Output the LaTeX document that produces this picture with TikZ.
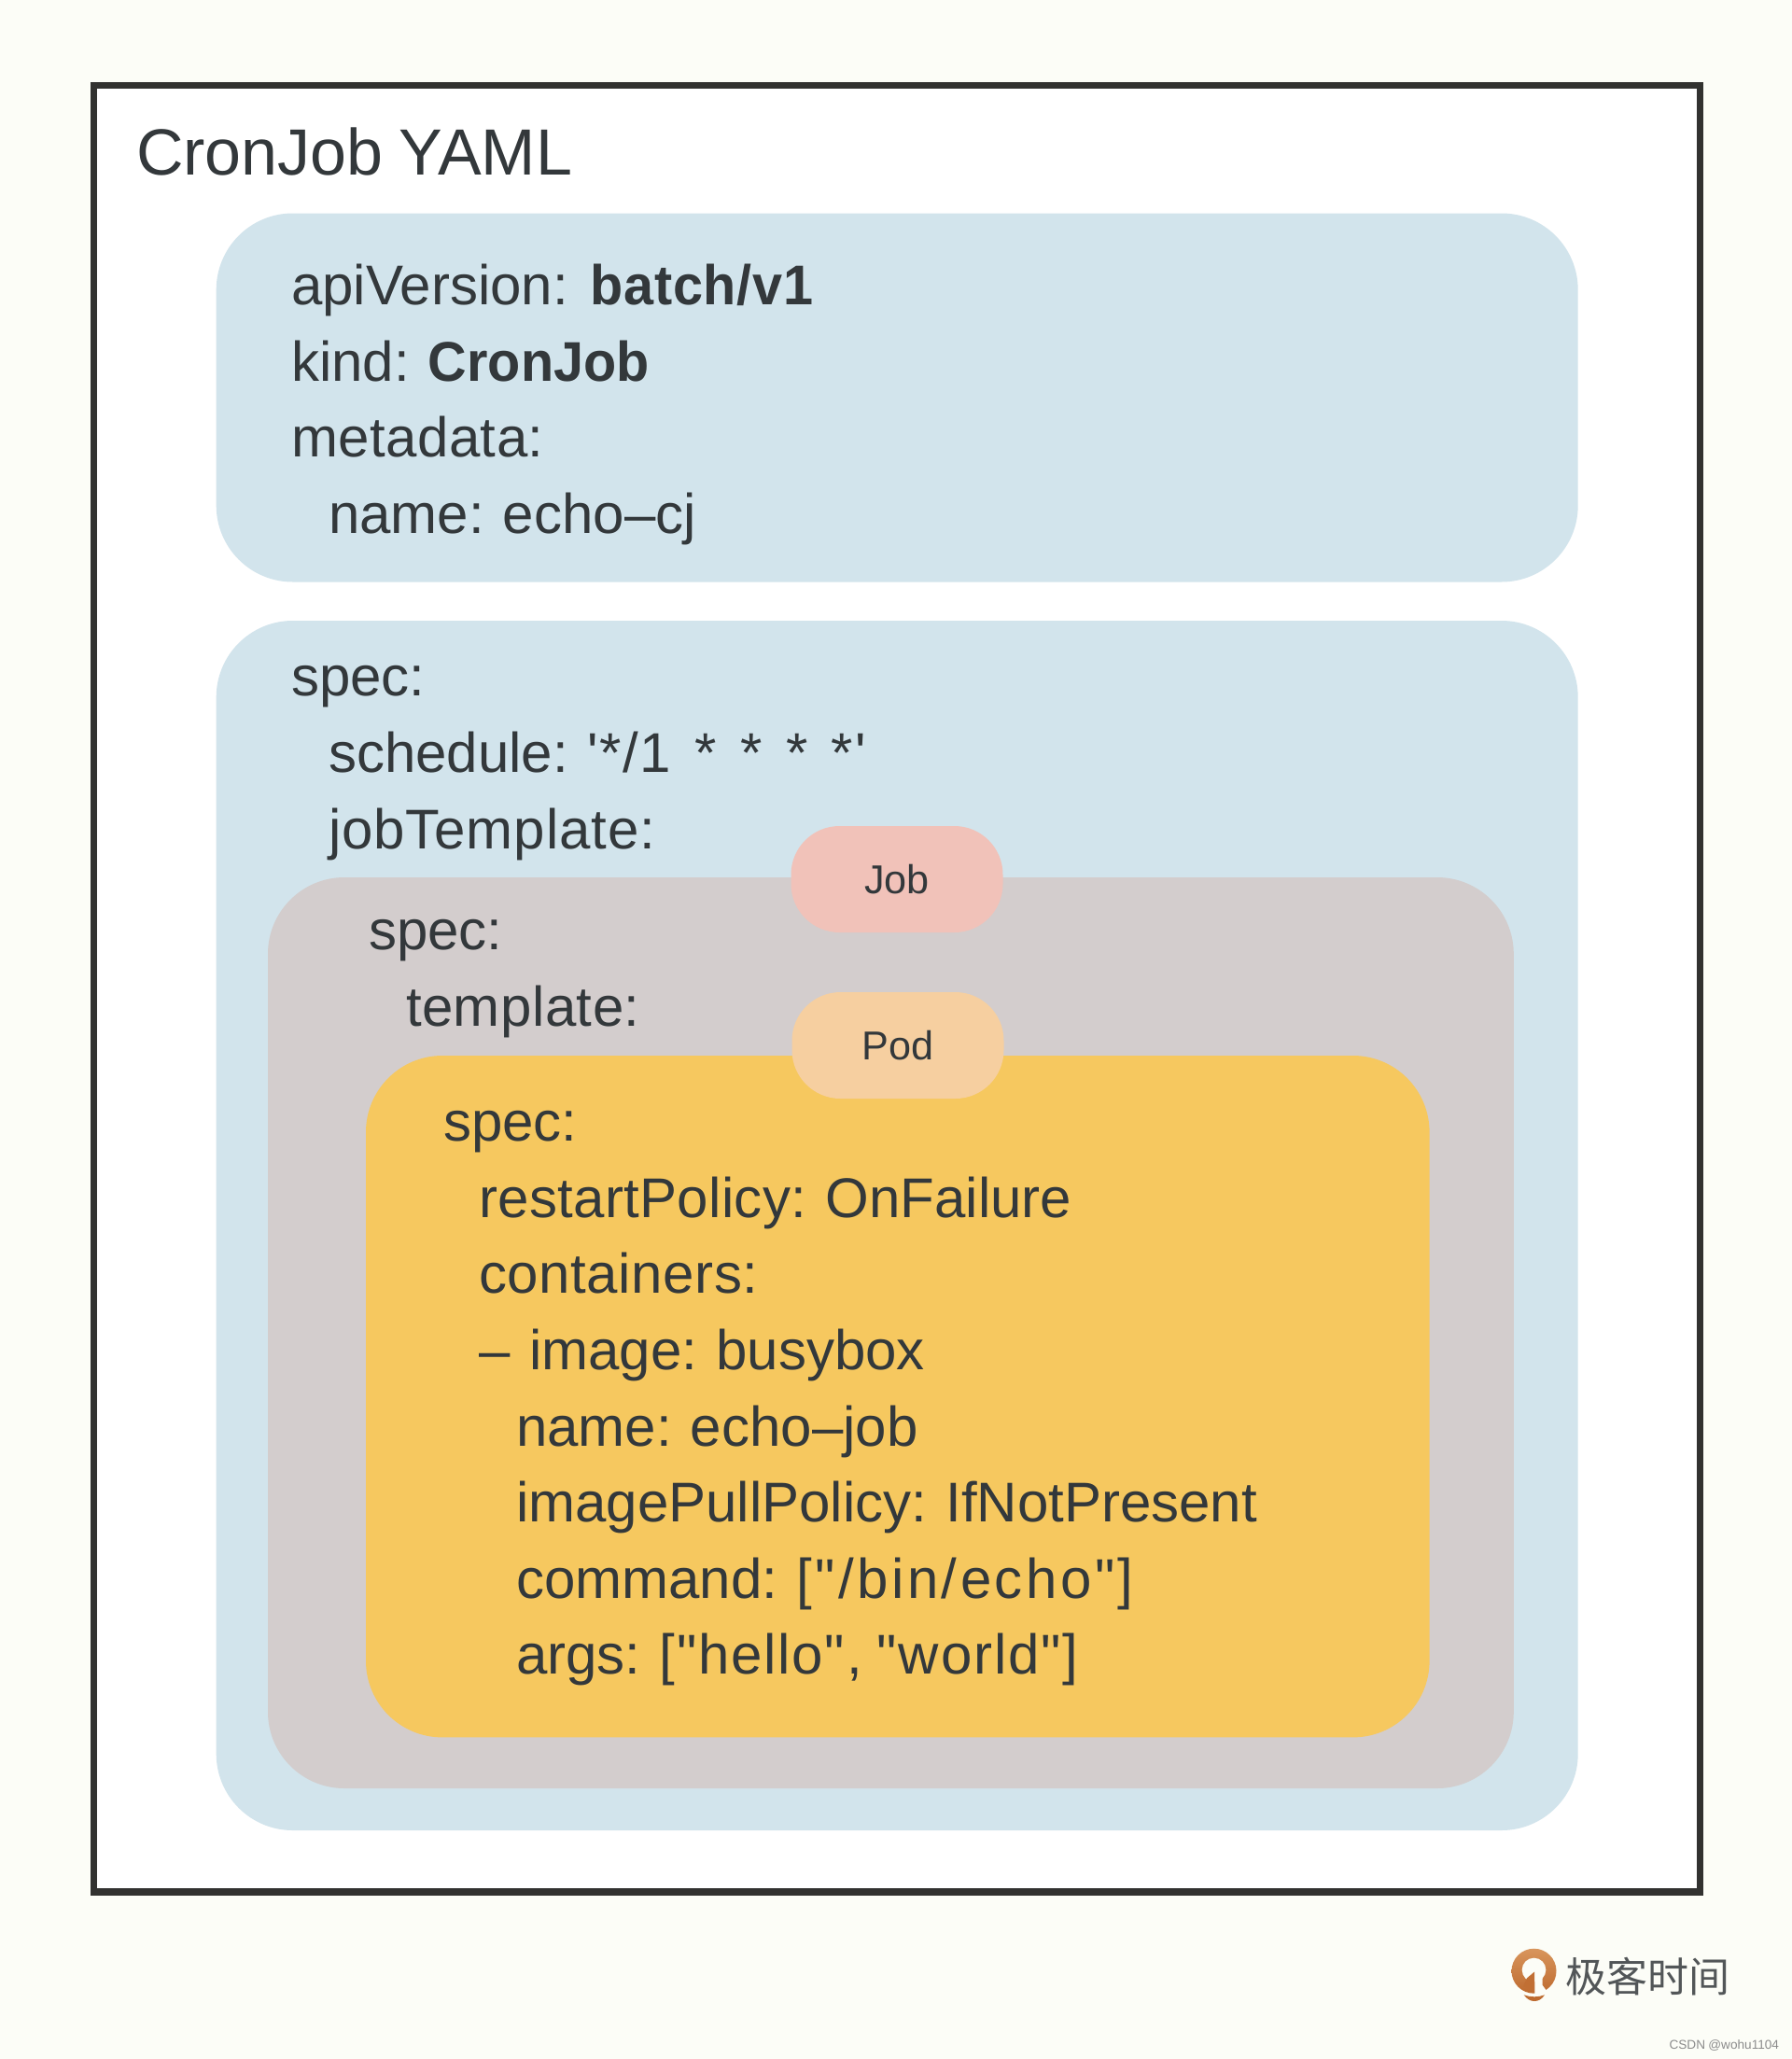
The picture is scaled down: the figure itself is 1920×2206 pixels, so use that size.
\documentclass[tikz,border=0pt]{standalone}
\usepackage{fontspec}
\setmainfont[Ligatures=TeXOff,WordSpace=0.88,BoldFeatures={FakeStretch=0.96}]{Liberation Sans}
\newfontfamily\cjk{Noto Sans CJK SC}
\definecolor{pagebg}{HTML}{FCFDF7}
\definecolor{inkdark}{HTML}{33383B}
\definecolor{framedark}{HTML}{323230}
\definecolor{specblue}{HTML}{D2E4EC}
\definecolor{jobgrey}{HTML}{D3CDCD}
\definecolor{podyellow}{HTML}{F6C85F}
\definecolor{jobpink}{HTML}{F1C2B9}
\definecolor{podpeach}{HTML}{F6CFA0}
\definecolor{logolight}{HTML}{D8955C}
\definecolor{logodark}{HTML}{BE6B30}
\begin{document}
\begin{tikzpicture}[x=0.5pt,y=-0.5pt]
\tikzstyle{every node}=[inner sep=0pt,outer sep=0pt,text=inkdark]
\tikzstyle{panel}=[rectangle,rounded corners=41pt,anchor=north west]
\tikzstyle{badge}=[rectangle,rounded corners=26pt,minimum width=113.5pt,minimum height=57pt,font=\fontsize{21.6}{25}\selectfont]
\tikzstyle{code}=[anchor=base west,font=\fontsize{30}{36}\selectfont]
\useasboundingbox (0,0) rectangle (1920,2206);
\fill[pagebg] (0,0) rectangle (1920,2206);

\node[rectangle,draw=framedark,line width=3.7pt,fill=white,anchor=north west,minimum width=860.4pt,minimum height=967.6pt] (frame) at (100.5,91.7) {};
\node[anchor=base west,font=\fontsize{35}{42}\selectfont] (title) at (146,187) {CronJob YAML};

\node[panel,fill=specblue,minimum width=729.5pt,minimum height=197.5pt] (meta) at (231.7,228.5) {};
\node[code] (api) at (312,326) {apiVersion:\hspace*{4.5pt} {\addfontfeature{LetterSpace=1.2}\textbf{batch/v1}}};
\node[code] (kind) at (312,408) {kind: \textbf{CronJob}};
\node[code] (metadata) at (312,489) {\addfontfeature{LetterSpace=0.8}metadata:};
\node[code] (cjname) at (352,571) {name: echo–cj};

\node[panel,fill=specblue,minimum width=729.5pt,minimum height=648pt] (cronspec) at (231.7,665) {};
\node[code] (spec1) at (312,745) {spec:};
\node[code] (schedule) at (352,827) {schedule: {\addfontfeature{LetterSpace=3}'*/1}\hspace*{12.7pt}*\hspace*{12.7pt}*\hspace*{12.7pt}*\hspace*{12.7pt}*\hspace*{1pt}'};
\node[code] (jobtpl) at (352,909) {\addfontfeature{LetterSpace=1.5}jobTemplate:};

\node[panel,fill=jobgrey,minimum width=667.4pt,minimum height=488pt] (jobspec) at (287,940) {};
\node[code] (spec2) at (395,1017) {spec:};
\node[code] (podtpl) at (435,1099) {\addfontfeature{LetterSpace=0.8}template:};

\node[panel,fill=podyellow,minimum width=569.8pt,minimum height=365.2pt] (podspec) at (392,1131) {};
\node[code] (spec3) at (475,1222) {spec:};
\node[code] (restart) at (513,1304) {{\addfontfeature{LetterSpace=0.6}restartPolicy:} OnFailure};
\node[code] (containers) at (513,1385) {\addfontfeature{LetterSpace=1}containers:};
\node[code] (image) at (513,1467) {–\hspace*{3pt} image: busybox};
\node[code] (ctname) at (553,1549) {name: echo–job};
\node[code] (pull) at (553,1630) {imagePullPolicy: IfNotPresent};
\node[code] (command) at (553,1712) {command: {\addfontfeature{LetterSpace=5.8}["/bin/echo"]}};
\node[code] (args) at (553,1793) {args: {\addfontfeature{LetterSpace=3}["hello", "world"]}};

\node[badge,fill=jobpink] (job) at (961,942) {Job};
\node[badge,fill=podpeach] (pod) at (962,1120) {Pod};

\shade[top color=logolight,bottom color=logodark] (1643.5,2111.7) circle (12pt);
\fill[pagebg] (1643.5,2110.5) circle (6.4pt);
\fill[logodark!90!logolight] (1636,2119.3) -- (1644.3,2112.3) -- (1644.3,2134) -- (1632,2128) -- cycle;
\fill[pagebg] (1644.3,2112) -- (1652.7,2112) -- (1652.7,2127) -- (1660,2137) -- (1644.3,2137) -- cycle;
\fill[logodark] (1632.7,2137.3) .. controls (1640,2140) and (1648,2140) .. (1655,2137.3) .. controls (1652,2142) and (1648,2144) .. (1644,2144) .. controls (1640,2144) and (1636,2142) .. (1632.7,2137.3) -- cycle;
\node[font=\cjk\fontsize{22}{26}\selectfont,anchor=west,text=inkdark!85] (brand) at (1677,2118) {极客时间};
\node[font=\fontsize{6.8}{8}\selectfont,anchor=east,text=black!45] (credit) at (1906,2191) {CSDN @wohu1104};
\end{tikzpicture}
\end{document}
